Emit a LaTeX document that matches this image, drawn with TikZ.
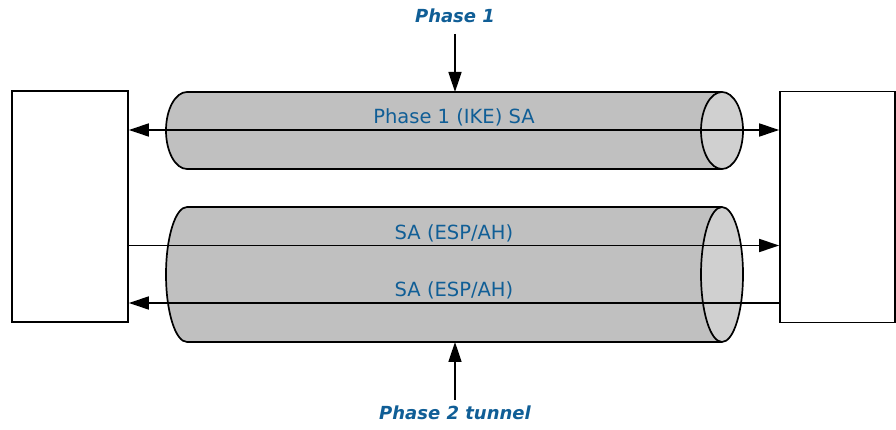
\documentclass[tikz,border=0pt]{standalone}
\usepackage{fontspec}
\setmainfont{DejaVu Sans}
\usetikzlibrary{arrows.meta}
\definecolor{txtblue}{RGB}{16,94,150}
\definecolor{cylbody}{RGB}{192,192,192}
\definecolor{cylend}{RGB}{208,208,208}
\tikzset{
  hostbox/.style={draw=black, line width=1.7pt, fill=white, minimum width=116pt, minimum height=231pt, inner sep=0pt},
  conn/.style={line width=1.7pt, -{Triangle[length=20pt,width=13pt]}},
  conn2/.style={line width=1.7pt, {Triangle[length=20pt,width=13pt]}-{Triangle[length=20pt,width=13pt]}},
  sa/.style={text=txtblue, font=\fontsize{19.5}{22}\selectfont, inner sep=0pt},
  phase/.style={text=txtblue, font=\fontsize{18}{20}\selectfont\bfseries\itshape, inner sep=0pt},
  cylline/.style={line width=1.7pt, draw=black}
}
\begin{document}
\begin{tikzpicture}[x=1pt,y=1pt]
\useasboundingbox (0,0) rectangle (896,430);
% top cylinder
\fill[cylbody] (187,338) -- (722,338) -- (722,261) -- (187,261) arc[start angle=270,end angle=90,x radius=21,y radius=38.5] -- cycle;
\draw[cylline] (722,338) -- (187,338) arc[start angle=90,end angle=270,x radius=21,y radius=38.5] -- (722,261);
\filldraw[cylline, fill=cylend] (722,299.5) ellipse[x radius=21, y radius=38.5];
% bottom cylinder
\fill[cylbody] (187,223) -- (722,223) -- (722,88) -- (187,88) arc[start angle=270,end angle=90,x radius=21,y radius=67.5] -- cycle;
\draw[cylline] (722,223) -- (187,223) arc[start angle=90,end angle=270,x radius=21,y radius=67.5] -- (722,88);
\filldraw[cylline, fill=cylend] (722,155.5) ellipse[x radius=21, y radius=67.5];
% hosts
\node[hostbox] (L) at (70,223.5) {};
\node[hostbox, minimum width=115pt] (R) at (837.5,223) {};
% anchors for arrows
\coordinate (ike) at (454,300);
\coordinate (out) at (454,184.5);
\coordinate (back) at (454,127);
\draw[conn2] (L.east |- ike) -- (R.west |- ike);
\draw[conn] (L.east |- out) -- (R.west |- out);
\draw[conn] (R.west |- back) -- (L.east |- back);
% labels
\node[sa] (t1) at (454,313) {Phase 1 (IKE) SA};
\node[sa] (t2) at (454,197) {SA (ESP/AH)};
\node[sa] (t3) at (454,140) {SA (ESP/AH)};
\node[phase] (p1) at (455,414) {Phase 1};
\node[phase] (p2) at (455,17) {Phase 2 tunnel};
\coordinate (c1top) at (455,338);
\coordinate (c2bot) at (455,88);
\draw[conn] (455,396) -- (c1top);
\draw[conn] (455,30) -- (c2bot);
\end{tikzpicture}
\end{document}
